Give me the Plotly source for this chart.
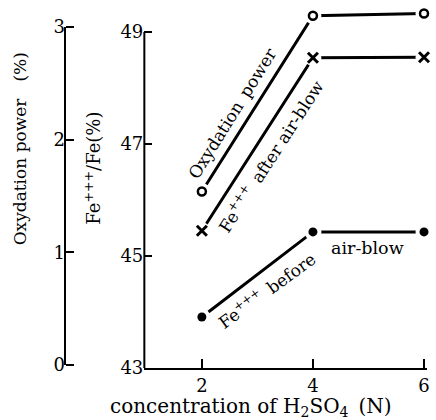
import plotly.graph_objects as go

# Concentration of sulphuric acid (N)
conc = [2, 4, 6]
# Oxydation power (%) -- read on the left-hand axis
oxidation_power = [1.54, 3.10, 3.12]
# Fe+++/Fe (%) after and before air-blow -- read on the Fe axis
fe3_after_blow = [45.45, 48.54, 48.55]
fe3_before_blow = [43.91, 45.43, 45.43]

fe_ticks = [43, 45, 47, 49]
ox_ticks = [0, 1, 2, 3]
conc_ticks = [2, 4, 6]

W, H = 436, 420
ML, MR, MT, MB = 65, 6, 8, 52
PW, PH = W - ML - MR, H - MT - MB

FONT = "DejaVu Serif"
INK = "black"


def px(x):
    """page pixel -> paper x"""
    return (x - ML) / PW


def py(y):
    """page pixel -> paper y"""
    return (H - MB - y) / PH


# Fe axis: 56 px per %, 43 on the base line
fe_scale = 56.0
fe_range = [43, 43 + PH / fe_scale]
# Oxydation axis: 0 sits 3 px above the base line, 112.67 px per %
ox_scale = 338 / 3.0
ox_range = [-3 / ox_scale, (H - MB - 3 - MT) / ox_scale]

fig = go.Figure()

series = [
    (oxidation_power, "y2", "circle-open", 8, 2.5),
    (fe3_after_blow, "y", "x-thin-open", 10, 3),
    (fe3_before_blow, "y", "circle", 9, 0),
]

# connecting lines
for vals, ax, *_ in series:
    fig.add_trace(go.Scatter(x=conc, y=vals, yaxis=ax, mode="lines",
                             line=dict(color=INK, width=3),
                             showlegend=False, hoverinfo="skip"))
# white halos leave a small gap between each line and its markers
for vals, ax, *_ in series:
    fig.add_trace(go.Scatter(x=conc, y=vals, yaxis=ax, mode="markers",
                             marker=dict(symbol="circle", size=17, color="white",
                                         line=dict(width=0)),
                             cliponaxis=False, showlegend=False, hoverinfo="skip"))
# markers
for vals, ax, sym, size, lw in series:
    fig.add_trace(go.Scatter(x=conc, y=vals, yaxis=ax, mode="markers",
                             marker=dict(symbol=sym, size=size, color=INK,
                                         line=dict(color=INK, width=lw)),
                             cliponaxis=False, showlegend=False))

tickfont = dict(family=FONT, size=18, color=INK)

fig.update_layout(
    width=W, height=H,
    margin=dict(l=ML, r=MR, t=MT, b=MB, pad=0),
    paper_bgcolor="white", plot_bgcolor="white",
    xaxis=dict(domain=[px(145), 1], range=[0.964, 6.054], anchor="y",
               tickvals=conc_ticks, ticks="inside", ticklen=9, tickwidth=2,
               tickcolor=INK, showline=True, linewidth=2, linecolor=INK,
               showgrid=False, zeroline=False, tickfont=tickfont),
    yaxis=dict(range=fe_range, anchor="x", tickvals=fe_ticks,
               ticks="inside", ticklen=8, tickwidth=2, tickcolor=INK,
               showline=False, showgrid=False, zeroline=False,
               tickfont=tickfont),
    yaxis2=dict(range=ox_range, overlaying="y", anchor="free", position=0,
                side="left", tickvals=ox_ticks, ticks="inside", ticklen=8,
                tickwidth=2, tickcolor=INK, showline=False, showgrid=False,
                zeroline=False, tickfont=tickfont),
    showlegend=False,
)

# vertical axis lines spanning only the labelled ranges
fig.add_shape(type="line", xref="x domain", x0=0, x1=0, yref="y",
              y0=fe_ticks[0], y1=fe_ticks[-1], line=dict(color=INK, width=2))
fig.add_shape(type="line", xref="paper", x0=0, x1=0, yref="y2",
              y0=ox_ticks[0], y1=ox_ticks[-1], line=dict(color=INK, width=2))

labels = [
    ("Oxydation power\u2002\u2002(%)", 20, 149, -90, 17),
    ("Fe<sup>+++</sup>/Fe(%)", 93, 168, -90, 18),
    ("concentration of H<sub>2</sub>SO<sub>4</sub>\u2002(N)", 253, 407, 0, 20),
    ("Oxydation\u2002power", 234, 113, -58, 17),
    ("Fe<sup>+++</sup>\u2002after air-blow", 272, 156, -57, 17),
    ("Fe<sup>+++</sup>\u2002before", 268, 290, -36, 17),
    ("air-blow", 370, 248, 0, 17.5),
]
for text, x, y, ang, size in labels:
    fig.add_annotation(text=text, xref="paper", yref="paper", x=px(x), y=py(y),
                       xanchor="center", yanchor="middle", textangle=ang,
                       showarrow=False, font=dict(family=FONT, size=size, color=INK))

fig.write_html("out.html")
